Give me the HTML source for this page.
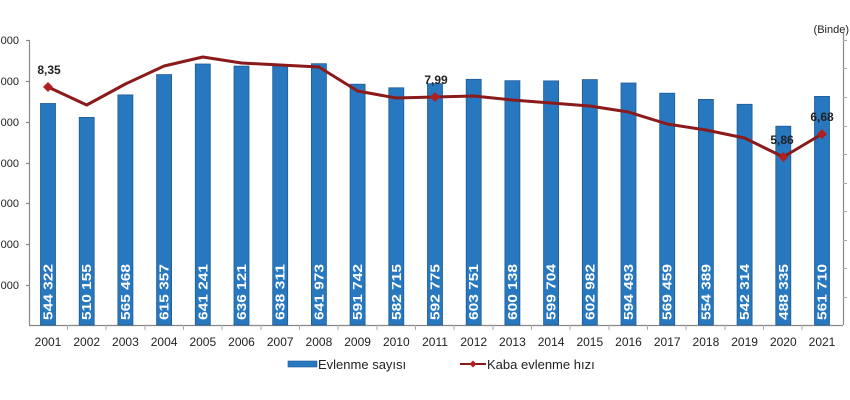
<!DOCTYPE html>
<html><head><meta charset="utf-8"><style>
html,body{margin:0;padding:0;background:#fff;}
svg{display:block;font-family:"Liberation Sans",Arial,sans-serif;}
</style></head><body>
<svg width="850" height="400" viewBox="0 0 850 400" xmlns="http://www.w3.org/2000/svg">
<rect width="850" height="400" fill="#fff"/>
<g stroke="#888" stroke-width="1.2">
<line x1="29.5" y1="40" x2="29.5" y2="325"/>
<line x1="26" y1="40.5" x2="29.5" y2="40.5"/><line x1="26" y1="81.5" x2="29.5" y2="81.5"/><line x1="26" y1="122.5" x2="29.5" y2="122.5"/><line x1="26" y1="163.5" x2="29.5" y2="163.5"/><line x1="26" y1="203.5" x2="29.5" y2="203.5"/><line x1="26" y1="244.5" x2="29.5" y2="244.5"/><line x1="26" y1="285.5" x2="29.5" y2="285.5"/>
<line x1="29" y1="325.5" x2="843" y2="325.5"/>
<line x1="843.5" y1="33" x2="843.5" y2="325"/>
</g>
<g stroke="#aaa" stroke-width="1">
<line x1="843" y1="40.5" x2="847" y2="40.5"/><line x1="843" y1="68.5" x2="847" y2="68.5"/><line x1="843" y1="97.5" x2="847" y2="97.5"/><line x1="843" y1="126.5" x2="847" y2="126.5"/><line x1="843" y1="154.5" x2="847" y2="154.5"/><line x1="843" y1="183.5" x2="847" y2="183.5"/><line x1="843" y1="211.5" x2="847" y2="211.5"/><line x1="843" y1="240.5" x2="847" y2="240.5"/><line x1="843" y1="268.5" x2="847" y2="268.5"/><line x1="843" y1="297.5" x2="847" y2="297.5"/>
<line x1="67.5" y1="325" x2="67.5" y2="330"/><line x1="106" y1="325" x2="106" y2="330"/><line x1="145" y1="325" x2="145" y2="330"/><line x1="183.5" y1="325" x2="183.5" y2="330"/><line x1="222" y1="325" x2="222" y2="330"/><line x1="261" y1="325" x2="261" y2="330"/><line x1="299.5" y1="325" x2="299.5" y2="330"/><line x1="338" y1="325" x2="338" y2="330"/><line x1="377" y1="325" x2="377" y2="330"/><line x1="415.5" y1="325" x2="415.5" y2="330"/><line x1="454" y1="325" x2="454" y2="330"/><line x1="493" y1="325" x2="493" y2="330"/><line x1="531.5" y1="325" x2="531.5" y2="330"/><line x1="570" y1="325" x2="570" y2="330"/><line x1="609" y1="325" x2="609" y2="330"/><line x1="647.5" y1="325" x2="647.5" y2="330"/><line x1="686" y1="325" x2="686" y2="330"/><line x1="725" y1="325" x2="725" y2="330"/><line x1="763.5" y1="325" x2="763.5" y2="330"/><line x1="802" y1="325" x2="802" y2="330"/>
</g>
<g font-size="11" fill="#222" text-anchor="end">
<text x="19" y="44">700 000</text><text x="19" y="85">600 000</text><text x="19" y="126">500 000</text><text x="19" y="167">400 000</text><text x="19" y="207">300 000</text><text x="19" y="248">200 000</text><text x="19" y="289">100 000</text>
</g>
<text x="849" y="33" font-size="11" fill="#222" text-anchor="end">(Binde)</text>
<g fill="#2878c0" stroke="#1d5a94" stroke-width="0.8">
<rect x="40.5" y="103.5" width="15" height="221.5"/>
<rect x="79.2" y="117.4" width="15" height="207.6"/>
<rect x="117.9" y="94.9" width="15" height="230.1"/>
<rect x="156.6" y="74.6" width="15" height="250.4"/>
<rect x="195.3" y="64" width="15" height="261"/>
<rect x="234" y="66.1" width="15" height="258.9"/>
<rect x="272.7" y="65.2" width="15" height="259.8"/>
<rect x="311.4" y="63.7" width="15" height="261.3"/>
<rect x="350.1" y="84.2" width="15" height="240.8"/>
<rect x="388.8" y="87.8" width="15" height="237.2"/>
<rect x="427.5" y="83.7" width="15" height="241.3"/>
<rect x="466.2" y="79.3" width="15" height="245.7"/>
<rect x="504.9" y="80.7" width="15" height="244.3"/>
<rect x="543.6" y="80.9" width="15" height="244.1"/>
<rect x="582.3" y="79.6" width="15" height="245.4"/>
<rect x="621" y="83" width="15" height="242"/>
<rect x="659.7" y="93.2" width="15" height="231.8"/>
<rect x="698.4" y="99.4" width="15" height="225.6"/>
<rect x="737.1" y="104.3" width="15" height="220.7"/>
<rect x="775.8" y="126.2" width="15" height="198.8"/>
<rect x="814.5" y="96.4" width="15" height="228.6"/>
</g>
<g font-size="13" font-weight="bold" fill="#fff">
<text transform="translate(52.5,320) rotate(-90)" textLength="56" lengthAdjust="spacingAndGlyphs">544 322</text>
<text transform="translate(91.2,320) rotate(-90)" textLength="56" lengthAdjust="spacingAndGlyphs">510 155</text>
<text transform="translate(129.9,320) rotate(-90)" textLength="56" lengthAdjust="spacingAndGlyphs">565 468</text>
<text transform="translate(168.6,320) rotate(-90)" textLength="56" lengthAdjust="spacingAndGlyphs">615 357</text>
<text transform="translate(207.3,320) rotate(-90)" textLength="56" lengthAdjust="spacingAndGlyphs">641 241</text>
<text transform="translate(246,320) rotate(-90)" textLength="56" lengthAdjust="spacingAndGlyphs">636 121</text>
<text transform="translate(284.7,320) rotate(-90)" textLength="56" lengthAdjust="spacingAndGlyphs">638 311</text>
<text transform="translate(323.4,320) rotate(-90)" textLength="56" lengthAdjust="spacingAndGlyphs">641 973</text>
<text transform="translate(362.1,320) rotate(-90)" textLength="56" lengthAdjust="spacingAndGlyphs">591 742</text>
<text transform="translate(400.8,320) rotate(-90)" textLength="56" lengthAdjust="spacingAndGlyphs">582 715</text>
<text transform="translate(439.5,320) rotate(-90)" textLength="56" lengthAdjust="spacingAndGlyphs">592 775</text>
<text transform="translate(478.2,320) rotate(-90)" textLength="56" lengthAdjust="spacingAndGlyphs">603 751</text>
<text transform="translate(516.9,320) rotate(-90)" textLength="56" lengthAdjust="spacingAndGlyphs">600 138</text>
<text transform="translate(555.6,320) rotate(-90)" textLength="56" lengthAdjust="spacingAndGlyphs">599 704</text>
<text transform="translate(594.3,320) rotate(-90)" textLength="56" lengthAdjust="spacingAndGlyphs">602 982</text>
<text transform="translate(633,320) rotate(-90)" textLength="56" lengthAdjust="spacingAndGlyphs">594 493</text>
<text transform="translate(671.7,320) rotate(-90)" textLength="56" lengthAdjust="spacingAndGlyphs">569 459</text>
<text transform="translate(710.4,320) rotate(-90)" textLength="56" lengthAdjust="spacingAndGlyphs">554 389</text>
<text transform="translate(749.1,320) rotate(-90)" textLength="56" lengthAdjust="spacingAndGlyphs">542 314</text>
<text transform="translate(787.8,320) rotate(-90)" textLength="56" lengthAdjust="spacingAndGlyphs">488 335</text>
<text transform="translate(826.5,320) rotate(-90)" textLength="56" lengthAdjust="spacingAndGlyphs">561 710</text>
</g>
<polyline fill="none" stroke="#8b1a1a" stroke-width="3" stroke-linejoin="round" points="48,87 86.7,105 125.4,84 164.1,66 202.8,57 241.5,63 280.2,65 318.9,67 357.6,91 396.3,98 435,97 473.7,96 512.4,100 551.1,103 589.8,106 628.5,112 667.2,124 705.9,130 744.6,138 783.3,157 822,134"/>
<g fill="#b02020">
<path d="M48,82 l5,5 l-5,5 l-5,-5z"/>
<path d="M435,92 l5,5 l-5,5 l-5,-5z"/>
<path d="M783.3,152 l5,5 l-5,5 l-5,-5z"/>
<path d="M822,129 l5,5 l-5,5 l-5,-5z"/>
</g>
<g font-size="12" font-weight="bold" fill="#222" text-anchor="middle">
<text x="49" y="74">8,35</text>
<text x="436" y="84">7,99</text>
<text x="782" y="144">5,86</text>
<text x="822" y="121">6,68</text>
</g>
<g font-size="12" fill="#222" text-anchor="middle">
<text x="48" y="346">2001</text><text x="86.7" y="346">2002</text><text x="125.4" y="346">2003</text><text x="164.1" y="346">2004</text><text x="202.8" y="346">2005</text><text x="241.5" y="346">2006</text><text x="280.2" y="346">2007</text><text x="318.9" y="346">2008</text><text x="357.6" y="346">2009</text><text x="396.3" y="346">2010</text><text x="435" y="346">2011</text><text x="473.7" y="346">2012</text><text x="512.4" y="346">2013</text><text x="551.1" y="346">2014</text><text x="589.8" y="346">2015</text><text x="628.5" y="346">2016</text><text x="667.2" y="346">2017</text><text x="705.9" y="346">2018</text><text x="744.6" y="346">2019</text><text x="783.3" y="346">2020</text><text x="822" y="346">2021</text>
</g>
<rect x="288" y="361" width="29" height="6" fill="#2878c0" stroke="#1d5a94" stroke-width="0.6"/>
<text x="318" y="369" font-size="13" fill="#222">Evlenme sayısı</text>
<line x1="460" y1="364" x2="486" y2="364" stroke="#8b1a1a" stroke-width="2"/>
<path d="M473,360.5 l3.5,3.5 l-3.5,3.5 l-3.5,-3.5z" fill="#b02020"/>
<text x="487" y="369" font-size="13" fill="#222">Kaba evlenme hızı</text>
</svg>
</body></html>
